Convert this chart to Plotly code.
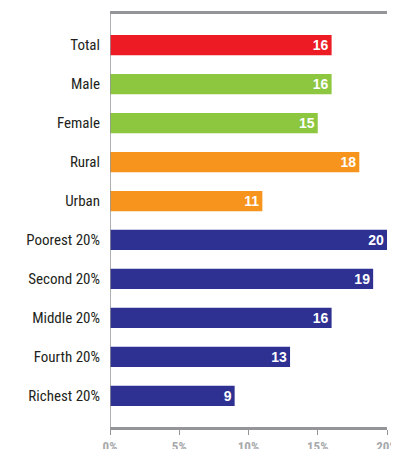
import plotly.graph_objects as go

categories = ["Total", "Male", "Female", "Rural", "Urban",
              "Poorest 20%", "Second 20%", "Middle 20%", "Fourth 20%", "Richest 20%"]
values = [16, 16, 15, 18, 11, 20, 19, 16, 13, 9]
colors = ["#ED1C24", "#8DC63F", "#8DC63F", "#F7941D", "#F7941D",
          "#2E3192", "#2E3192", "#2E3192", "#2E3192", "#2E3192"]
tick_vals = [0, 5, 10, 15, 20]
tick_text = ["0%", "5%", "10%", "15%", "20%"]

font_family = "Liberation Sans Narrow, Roboto Condensed, Arial Narrow, sans-serif"

fig = go.Figure()
fig.add_trace(
    go.Bar(
        x=values,
        y=categories,
        orientation="h",
        marker=dict(color=colors, line=dict(width=0)),
        width=0.52,
        text=[str(v) for v in values],
        textposition="inside",
        insidetextanchor="end",
        textangle=0,
        constraintext="none",
        textfont=dict(family="Liberation Sans, Arial, sans-serif", size=14, color="white", weight="bold"),
        hoverinfo="skip",
    )
)

fig.update_xaxes(
    range=[0, 20],
    tickvals=tick_vals,
    ticktext=tick_text,
    showgrid=False,
    zeroline=False,
    showline=True,
    linecolor="#939598",
    linewidth=3,
    mirror=True,
    ticks="outside",
    ticklen=5,
    tickwidth=1,
    tickcolor="#939598",
    automargin=False,
    ticklabeloverflow="allow",
    tickfont=dict(family=font_family, size=13, color="#A7A9AC", weight="bold"),
)
fig.update_yaxes(
    categoryorder="array",
    categoryarray=categories,
    range=[9.8, -0.8],
    showgrid=False,
    zeroline=False,
    showline=False,
    ticks="",
    automargin=False,
    ticklabelstandoff=9,
    tickfont=dict(family=font_family, size=15, color="#231F20"),
)
fig.add_shape(
    type="line", xref="x", yref="paper",
    x0=0, x1=0, y0=0, y1=1,
    line=dict(color="#939598", width=1.5),
    layer="above",
)

# page body has an 8px margin; keep the figure inside the window so nothing scrolls
fig.update_layout(
    width=391,
    height=441,
    margin=dict(l=102, r=12, t=6, b=22),
    plot_bgcolor="white",
    paper_bgcolor="white",
    showlegend=False,
)

fig.write_html("out.html")
